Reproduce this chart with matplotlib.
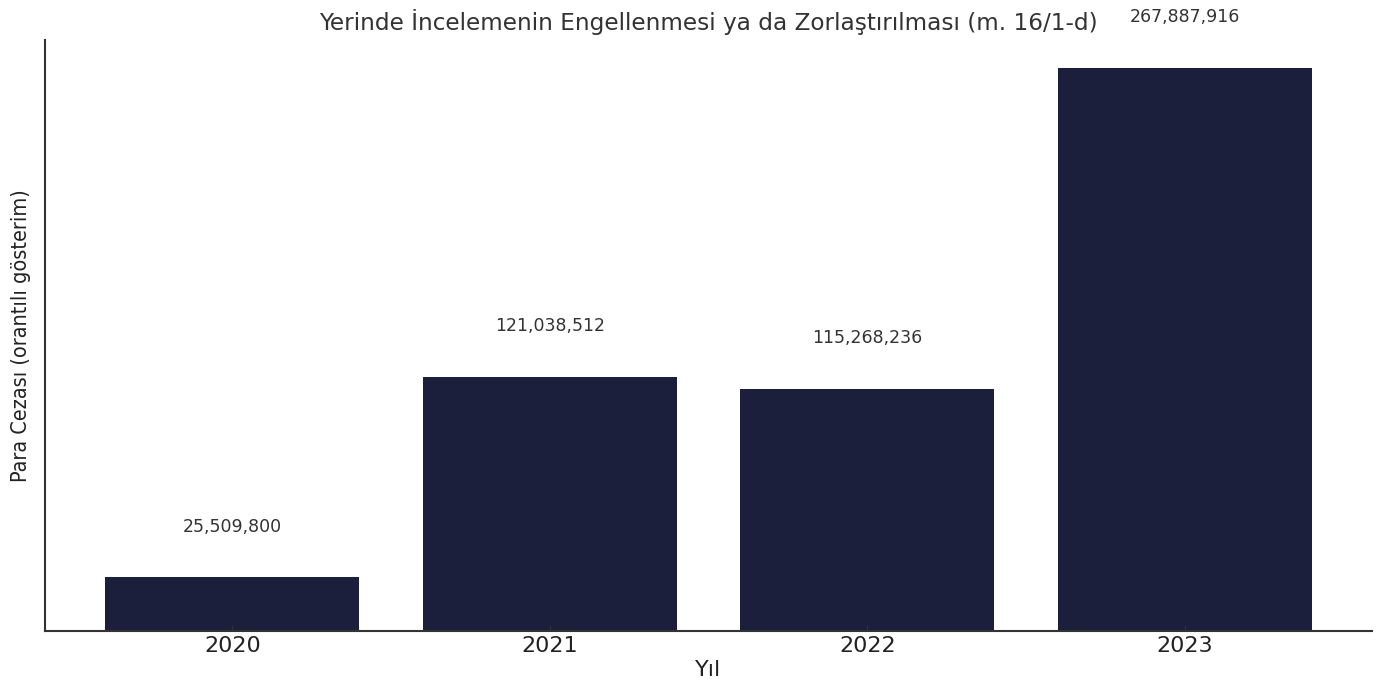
import matplotlib
matplotlib.use("Agg")
import matplotlib.pyplot as plt
import numpy as np

# Yillara gore para cezasi (m. 16/1-d)
years = ["2020", "2021", "2022", "2023"]
fines = [25509800, 121038512, 115268236, 267887916]

fig = plt.figure(figsize=(13.86, 6.94), dpi=100)
ax = fig.add_axes([0.0325, 0.0908, 0.9575, 0.8516])

x = np.arange(len(years))
ax.bar(x, fines, width=0.8, color="#1b1f3b")

# value labels above bars
offset = 0.09 * max(fines)
for xi, v in zip(x, fines):
    ax.text(xi, v + offset, f"{v:,}", ha="center", va="center",
            fontsize=12.5, color="#333333")

ax.set_xticks(x)
ax.set_xticklabels(years, fontsize=16, color="#222222")
ax.set_yticks([])
ax.tick_params(axis="x", direction="in", length=4, color="#333333")

ax.set_title("Yerinde İncelemenin Engellenmesi ya da Zorlaştırılması (m. 16/1-d)",
             fontsize=16.7, color="#333333", pad=7)
ax.set_xlabel("Yıl", fontsize=16, color="#222222", labelpad=3)
ax.set_ylabel("Para Cezası (orantılı gösterim)", fontsize=15.5,
              fontstretch="condensed", color="#222222", labelpad=10)

for side in ["top", "right"]:
    ax.spines[side].set_visible(False)
for side in ["left", "bottom"]:
    ax.spines[side].set_color("#333333")
    ax.spines[side].set_linewidth(1.5)

fig.savefig("out.png", dpi=100)
